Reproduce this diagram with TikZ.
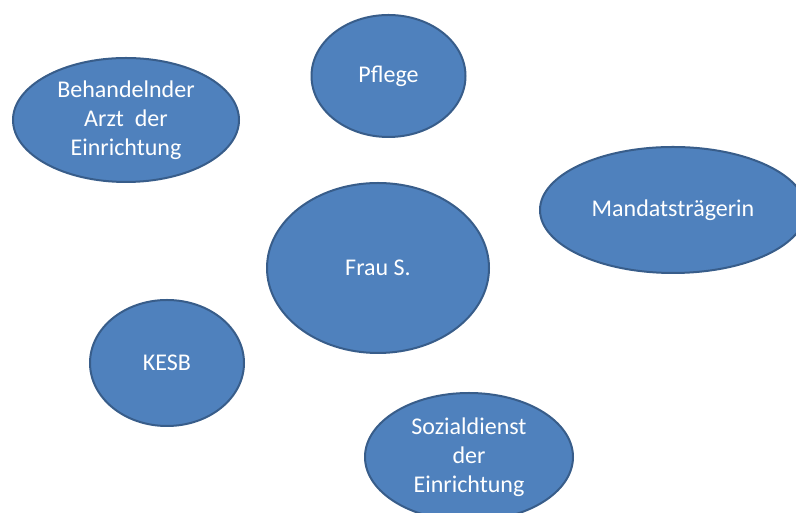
\documentclass[tikz,border=0pt]{standalone}
\usepackage{fontspec}
\setmainfont{Carlito}
\usetikzlibrary{shapes.geometric}
\definecolor{ovalfill}{HTML}{4F81BD}
\definecolor{ovalline}{HTML}{385D8A}
\tikzset{
  oval/.style={ellipse, draw=ovalline, fill=ovalfill, line width=2pt,
    text=white, align=center, inner sep=0pt,
    font=\fontsize{24}{29}\selectfont},
}
\begin{document}
\begin{tikzpicture}[x=1pt,y=1pt]
\useasboundingbox (0,0) rectangle (796,513);
\clip (0,0) rectangle (796,513);
\fill[white] (0,0) rectangle (796,513);
\node[oval, minimum width=154pt, minimum height=122pt] (pflege) at (388.5,437) {Pflege};
\node[oval, minimum width=226pt, minimum height=124pt] (arzt) at (126,393) {Behandelnder\\Arzt\ \ der\\Einrichtung};
\node[oval, minimum width=266pt, minimum height=126pt] (mandat) at (673,303) {Mandatsträgerin};
\node[oval, minimum width=222pt, minimum height=170pt] (frau) at (378,245) {Frau S.};
\node[oval, minimum width=154pt, minimum height=126pt] (kesb) at (167,150) {KESB};
\node[oval, minimum width=208pt, minimum height=128pt] (sozial) at (469,56) {Sozialdienst\\der\\Einrichtung};
\end{tikzpicture}
\end{document}
